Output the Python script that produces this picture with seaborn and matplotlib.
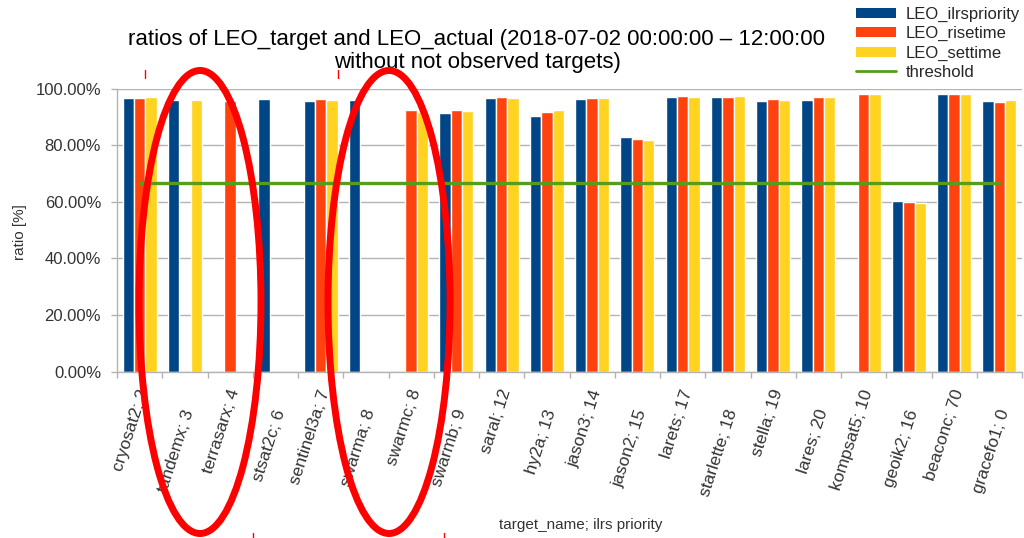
import numpy as np
import pandas as pd
import matplotlib
matplotlib.use("Agg")
import matplotlib.pyplot as plt
import matplotlib.transforms as mtransforms
import seaborn as sns
from matplotlib.patches import Patch, Ellipse
from matplotlib.lines import Line2D
from matplotlib.ticker import FuncFormatter

# ---- data (ratio in percent) ----
targets = ["cryosat2; 2", "tandemx; 3", "terrasarx; 4", "stsat2c; 6", "sentinel3a; 7",
           "swarma; 8", "swarmc; 8", "swarmb; 9", "saral; 12", "hy2a; 13",
           "jason3; 14", "jason2; 15", "larets; 17", "starlette; 18", "stella; 19",
           "lares; 20", "kompsat5; 10", "geoik2; 16", "beaconc; 70", "gracefo1; 0"]
nan = np.nan
leo_ilrspriority = [96.8, 96.0, nan, 96.4, 95.8, 96.0, nan, 91.3, 96.6, 90.5,
                    96.3, 82.9, 96.9, 97.1, 95.8, 96.0, nan, 60.2, 98.2, 95.7]
leo_risetime = [96.8, nan, 95.8, nan, 96.5, nan, 92.5, 92.6, 97.2, 91.9,
                96.6, 82.3, 97.3, 97.1, 96.5, 97.0, 98.0, 60.0, 98.2, 95.3]
leo_settime = [97.2, 96.0, nan, nan, 96.0, nan, 91.8, 92.2, 96.6, 92.5,
               96.8, 82.0, 97.2, 97.3, 96.0, 97.0, 98.2, 59.6, 98.0, 96.0]
threshold = [66.67] * len(targets)

series_names = ["LEO_ilrspriority", "LEO_risetime", "LEO_settime"]
colors = ["#004586", "#ff420e", "#ffd320"]
threshold_color = "#579d1c"

df = pd.DataFrame({
    "target": targets * 3,
    "series": np.repeat(series_names, len(targets)),
    "ratio": leo_ilrspriority + leo_risetime + leo_settime,
}).dropna()

sns.set_theme(style="white")
plt.rcParams["font.family"] = ["Liberation Sans", "DejaVu Sans"]

fig = plt.figure(figsize=(10.24, 5.38), dpi=100)
W, H = 1024, 538
ax = fig.add_axes([117 / W, 1 - 371.7 / H, 905 / W, 283 / H])

sns.barplot(data=df, x="target", y="ratio", hue="series", order=targets,
            hue_order=series_names, palette=colors, saturation=1, width=0.75,
            errorbar=None, legend=False, ax=ax, zorder=2)
sns.lineplot(x=np.arange(len(targets)), y=threshold, color=threshold_color,
             linewidth=2.4, ax=ax, zorder=3)

ax.set_xlim(-0.5, len(targets) - 0.5)
ax.set_ylim(0, 100)
ax.set_yticks(np.arange(0, 101, 20))
ax.yaxis.set_major_formatter(FuncFormatter(lambda v, p: f"{v:.2f}%"))
ax.grid(axis="y", color="#b3b3b3", linewidth=1, zorder=0)
ax.set_axisbelow(True)
for s in ["top", "right"]:
    ax.spines[s].set_visible(False)
for s in ["left", "bottom"]:
    ax.spines[s].set_color("#b3b3b3")
    ax.spines[s].set_linewidth(1)

ax.tick_params(axis="y", length=4.5, width=1, color="#b3b3b3", pad=7,
               labelsize=12, labelcolor="#333333", left=True)
ax.set_xticks(np.arange(len(targets)))
ax.set_xticklabels(targets, rotation=72, ha="right", va="center",
                   rotation_mode="anchor", fontsize=12.5, color="#333333")
ax.set_xticks(np.arange(-0.5, len(targets), 1), minor=True)
ax.tick_params(axis="x", which="major", length=0, pad=13)
ax.tick_params(axis="x", which="minor", length=4.5, width=1, color="#b3b3b3",
               bottom=True)
# alternate rows of category labels
for i, t in enumerate(ax.xaxis.get_major_ticks()):
    if i % 2 == 1:
        t.set_pad(27.5)
shift = mtransforms.ScaledTranslation(5 / 100, 0, fig.dpi_scale_trans)
for lab in ax.get_xticklabels():
    lab.set_transform(lab.get_transform() + shift)

ax.set_xlabel("")
ax.set_ylabel("")
fig.text(20 / W, 1 - 232 / H, "ratio [%]", rotation=90, ha="center",
         va="center", fontsize=11, color="#333333")
fig.text(581 / W, 1 - 525 / H, "target_name; ilrs priority", ha="center",
         va="center", fontsize=11, color="#333333")

fig.text(477 / W, 1 - 51 / H,
         "ratios of LEO_target and LEO_actual (2018-07-02 00:00:00 – 12:00:00\n"
         "without not observed targets)",
         ha="center", va="center", fontsize=16, color="black", linespacing=1.12)

handles = [Patch(facecolor=c, edgecolor="none") for c in colors]
handles.append(Line2D([], [], color=threshold_color, linewidth=2))
fig.legend(handles, series_names + ["threshold"], loc="upper left",
           bbox_to_anchor=(856 / W, 1 - 7 / H), frameon=False, fontsize=12,
           handlelength=2.4, handleheight=0.55, handletextpad=0.6,
           labelspacing=0.25, borderpad=0, borderaxespad=0)

# red highlight rings
for cx in (200, 389):
    fig.add_artist(Ellipse((cx / W, 1 - 302 / H), 122 / W, 463 / H, fill=False,
                           edgecolor="#ff0000", linewidth=5,
                           transform=fig.transFigure, zorder=10))
for x, y0, y1 in [(145, 70, 78), (338, 70, 78), (253, 533, 538), (444, 533, 538)]:
    fig.add_artist(Line2D([x / W, x / W], [1 - y0 / H, 1 - y1 / H],
                          color="#ff0000", linewidth=1, transform=fig.transFigure))

fig.savefig("out.png", dpi=100)
